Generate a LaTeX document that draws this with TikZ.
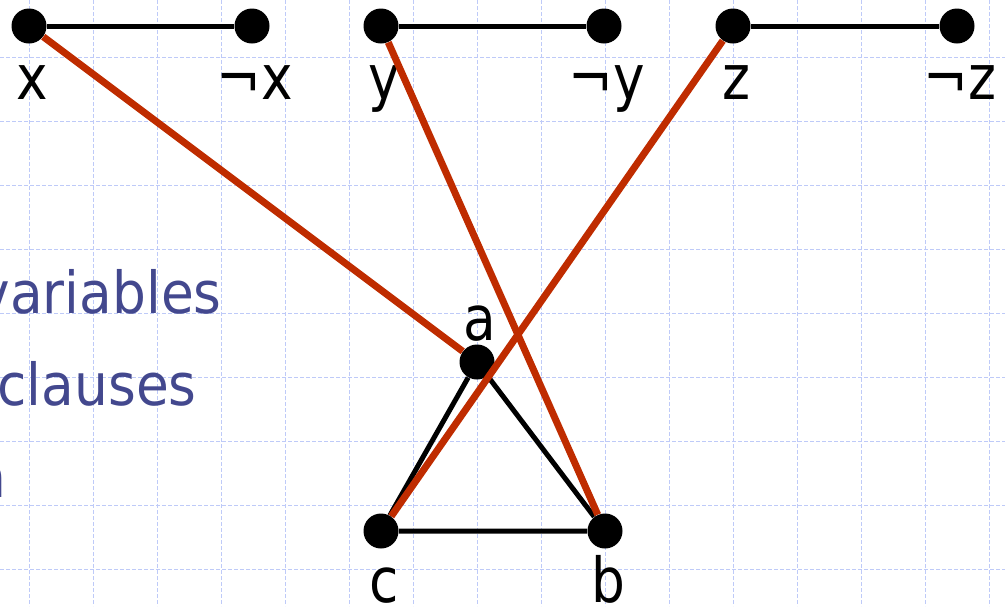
\documentclass[tikz,border=0pt]{standalone}
\usepackage{fontspec}
\setmainfont[FakeStretch=0.86]{DejaVu Sans}
\newfontfamily\notefont[FakeStretch=0.92]{DejaVu Sans}
\usetikzlibrary{positioning}

\definecolor{gridblue}{RGB}{190,202,248}
\definecolor{linkred}{RGB}{191,44,0}
\definecolor{noteblue}{RGB}{67,72,142}

\begin{document}
\begin{tikzpicture}[x=0.5pt,y=-0.5pt,
  vertex/.style={circle,fill=black,inner sep=0pt,minimum size=17.5pt},
  lit/.style={font=\fontsize{31}{31}\selectfont,anchor=base,xshift=1.5pt,inner sep=0pt},
  wire/.style={line width=2.5pt},
  hit/.style={line width=3.5pt,draw=linkred},
  note/.style={font=\notefont\fontsize{29}{29}\selectfont,text=noteblue,anchor=base east,inner sep=0pt}]
  \useasboundingbox (0,0) rectangle (1005,606);
  \clip (0,0) rectangle (1005,606);

  % background grid
  \foreach \gx in {0,...,15}
    \draw[gridblue,line width=0.5pt,dash pattern=on 2pt off 1pt]
      (29.5+64*\gx,0) -- (29.5+64*\gx,606);
  \foreach \gy in {0,...,8}
    \draw[gridblue,line width=0.5pt,dash pattern=on 2pt off 1pt]
      (0,57.5+64*\gy) -- (1005,57.5+64*\gy);

  % left text, cut by the frame
  \node[note] (vars) at (222,313) {variables};
  \node[note] (cls) at (197,405) {clauses};
  \node[note] (nn) at (7,497) {n};

  % variable gadgets
  \node[vertex] (x) at (29,26) {};
  \node[vertex] (nx) at (252,26) {};
  \node[vertex] (y) at (381,26) {};
  \node[vertex] (ny) at (604,26) {};
  \node[vertex] (z) at (733,26) {};
  \node[vertex] (nz) at (957,26) {};

  % clause gadget
  \node[vertex] (a) at (477,362) {};
  \node[vertex] (b) at (605,531) {};
  \node[vertex] (c) at (381,531) {};

  \node[below=36.5pt of x.center,lit] (xlab) {x};
  \node[below=36.5pt of nx.center,lit] (nxlab) {¬x};
  \node[below=36.5pt of y.center,lit] (ylab) {y};
  \node[below=36.5pt of ny.center,lit] (nylab) {¬y};
  \node[below=36.5pt of z.center,lit] (zlab) {z};
  \node[below=36.5pt of nz.center,lit] (nzlab) {¬z};
  \node[above=11pt of a.center,lit] (alab) {a};
  \node[below=35.5pt of b.center,lit] (blab) {b};
  \node[below=35.5pt of c.center,lit] (clab) {c};

  \draw[wire] (x) -- (nx);
  \draw[wire] (y) -- (ny);
  \draw[wire] (z) -- (nz);
  \draw[wire] (a) -- (b) -- (c) -- (a);

  \draw[hit] (x) -- (a);
  \draw[hit] (y) -- (b);
  \draw[hit] (z) -- (c);
\end{tikzpicture}
\end{document}
